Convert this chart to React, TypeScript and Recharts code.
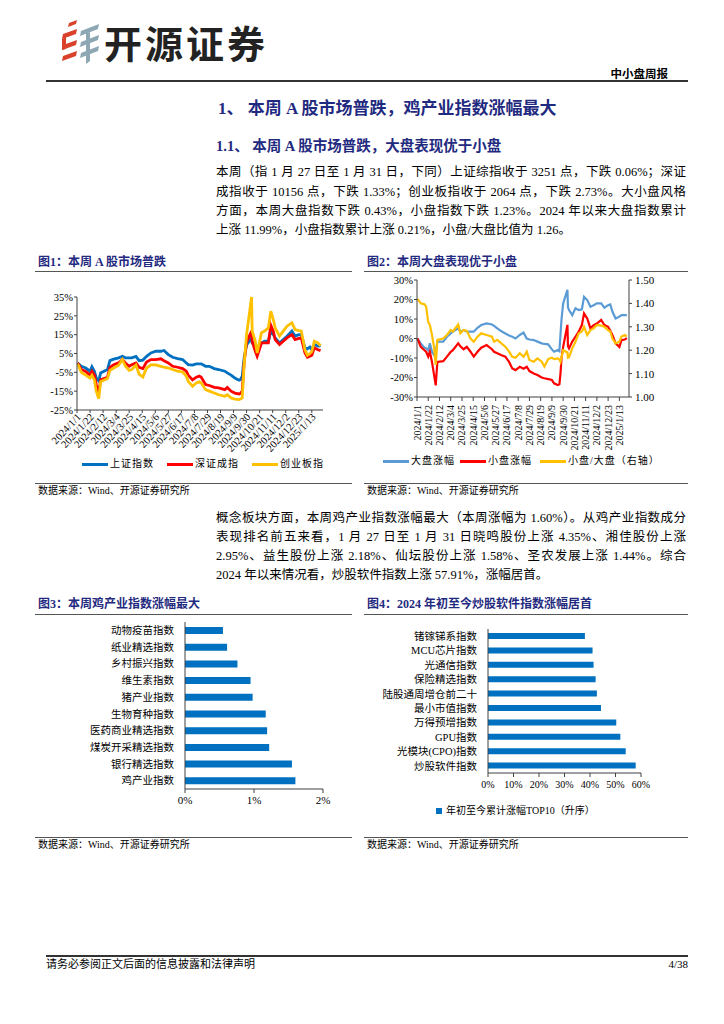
import React from 'react'
import { LineChart, Line, BarChart, Bar, XAxis, YAxis } from 'recharts'

const SERIF = '"Liberation Serif", "Noto Sans CJK SC", serif'
const SANS = '"Noto Sans CJK SC", "Noto Sans", sans-serif'
const NAVY = '#1f2a80'
const AXIS = '#404040'

// 日期刻度（图1、图2共用）
const dateTicks = ['2024/1/1', '2024/1/22', '2024/2/12', '2024/3/4', '2024/3/25', '2024/4/15', '2024/5/6', '2024/5/27', '2024/6/17', '2024/7/8', '2024/7/29', '2024/8/19', '2024/9/9', '2024/9/30', '2024/10/21', '2024/11/11', '2024/12/2', '2024/12/23', '2025/1/13']

// 图1：上证指数 / 深证成指 / 创业板指 累计涨跌幅（%）
const marketDates = ['2024/1/2', '2024/1/8', '2024/1/15', '2024/1/22', '2024/1/25', '2024/1/29', '2024/2/1', '2024/2/5', '2024/2/8', '2024/2/19', '2024/2/23', '2024/2/29', '2024/3/8', '2024/3/14', '2024/3/19', '2024/3/25', '2024/3/29', '2024/4/5', '2024/4/10', '2024/4/16', '2024/4/22', '2024/4/29', '2024/5/7', '2024/5/15', '2024/5/20', '2024/5/27', '2024/6/3', '2024/6/11', '2024/6/19', '2024/6/25', '2024/6/28', '2024/7/5', '2024/7/11', '2024/7/16', '2024/7/19', '2024/7/26', '2024/8/1', '2024/8/9', '2024/8/16', '2024/8/26', '2024/8/30', '2024/9/5', '2024/9/11', '2024/9/18', '2024/9/20', '2024/9/23', '2024/9/26', '2024/9/30', '2024/10/8', '2024/10/9', '2024/10/14', '2024/10/17', '2024/10/24', '2024/10/29', '2024/11/4', '2024/11/8', '2024/11/12', '2024/11/15', '2024/11/22', '2024/11/28', '2024/12/4', '2024/12/12', '2024/12/17', '2024/12/23', '2024/12/27', '2025/1/2', '2025/1/6', '2025/1/10', '2025/1/13', '2025/1/17', '2025/1/23', '2025/1/27']
const shIndex = [0, -1.8, -2.7, -4.4, -2, -4.4, -8, -9.5, -5.3, -3.5, 1.2, 2, 2.7, 3.5, 2.7, 2.7, 2.7, 3.5, 1.2, 1.5, 3.5, 5.3, 6.2, 6.2, 6.6, 4.4, 3, 2.3, 1.8, 0, -0.9, -1.2, -0.5, -0.5, -0.5, -1.8, -1.8, -3, -3.5, -4.4, -5.3, -6.5, -8, -9.2, -8.9, -7, 2.7, 9.5, 13.3, 10.6, 9.8, 6.2, 10.6, 11.5, 11.5, 16.9, 15, 13.3, 10.6, 12.4, 14.2, 16.9, 14.2, 15, 15, 8, 7.5, 8.5, 7, 9.8, 8.9, 9]
const szIndex = [0, -3.5, -4.5, -6.5, -4.5, -6.5, -11.5, -16, -9, -7.6, -2.3, -1, 0, 1.8, 0, -1.8, -1, 0, -2.3, -3, 0.5, 1.8, 1.8, 2.2, 1.2, 0, -1.8, -2.3, -3, -4.4, -6.5, -9, -7.6, -7, -7.6, -11.5, -12, -13, -13.3, -14.2, -13, -15, -16, -16.5, -16.2, -15, 0, 11, 16.9, 11.5, 6.2, 3.5, 10.6, 10.6, 10.6, 20, 16.9, 12.4, 9.8, 11.5, 13.3, 15, 12.4, 13, 13.3, 5.3, 3, 3.5, 4, 8, 7, 6.5]
const cyIndex = [-0.5, -5, -6.5, -8, -6.5, -9, -15, -19, -10, -8.3, -4, -2.7, -1.2, 1.8, -1.8, -4, -3.5, -1.2, -6, -7.5, -2.7, -1, -1, -1.8, -2.3, -2.7, -3.5, -4.4, -4.8, -7, -9.8, -12.4, -10.6, -10, -10.6, -14.2, -15, -16, -16.9, -17.7, -16.9, -18.6, -19.2, -19.5, -19.2, -18.6, -1, 15, 35, 16.9, 11.5, 5.3, 16, 16.9, 18.6, 27.5, 23, 18.6, 14.2, 16.9, 19.5, 21.3, 17.7, 17.2, 17, 7, 4, 5, 6, 11.5, 10.6, 9]
const marketTicks = [-25, -15, -5, 5, 15, 25, 35]

// 图2：大盘涨幅 / 小盘涨幅（%），小盘/大盘（右轴）
const styleDates = ['2024/1/2', '2024/1/8', '2024/1/15', '2024/1/18', '2024/1/22', '2024/1/25', '2024/1/29', '2024/2/2', '2024/2/5', '2024/2/8', '2024/2/19', '2024/2/26', '2024/3/4', '2024/3/8', '2024/3/18', '2024/3/22', '2024/3/28', '2024/4/3', '2024/4/10', '2024/4/16', '2024/4/23', '2024/4/30', '2024/5/10', '2024/5/20', '2024/5/24', '2024/5/30', '2024/6/6', '2024/6/14', '2024/6/21', '2024/6/27', '2024/7/3', '2024/7/11', '2024/7/18', '2024/7/24', '2024/7/29', '2024/8/6', '2024/8/13', '2024/8/21', '2024/8/26', '2024/9/2', '2024/9/9', '2024/9/13', '2024/9/20', '2024/9/23', '2024/9/25', '2024/9/27', '2024/9/30', '2024/10/8', '2024/10/9', '2024/10/11', '2024/10/17', '2024/10/23', '2024/10/29', '2024/11/4', '2024/11/8', '2024/11/14', '2024/11/20', '2024/11/26', '2024/12/2', '2024/12/10', '2024/12/16', '2024/12/23', '2024/12/27', '2024/12/31', '2025/1/6', '2025/1/13', '2025/1/17', '2025/1/23', '2025/1/27']
const bigCap = [0, -2.5, -4.7, -5, -6, -2.5, -6.8, -8.5, -7, -1.6, -1.6, 0.9, 2.6, 3.5, 5.2, 3.5, 4.3, 3.5, 3.5, 3.5, 5.5, 6.9, 7.7, 7.2, 6.5, 5.2, 3.8, 2.6, 1.5, 0.9, 0, 1.8, 3, 0, -0.5, -0.8, -1.6, -2.5, -2.8, -3, -5.6, -6.8, -5.9, -6.5, 2, 10, 18, 25, 16, 14.6, 12, 15.5, 14.6, 15, 21.4, 19.7, 16.3, 17.1, 18, 18, 15.8, 17.1, 17.5, 13.8, 10.3, 11.2, 12, 12, 11.99]
const smallCap = [0, -4.3, -6, -6.8, -9.3, -6.8, -12, -18.9, -24, -12, -11.6, -9.3, -6.8, -6, -2.5, -4, -5.5, -4.3, -6.8, -9.3, -6.8, -4.7, -3.4, -5.5, -6.8, -7.6, -8.5, -9.3, -12, -15.4, -16.2, -14.5, -15.5, -14.5, -16.7, -17.9, -18.7, -20, -20.4, -20.8, -21.3, -23, -23.9, -23.5, -18, -10, -4.3, 7, -4, -5.1, -1.6, 0.9, 3.5, 6.9, 12.9, 10.3, 5.2, 6.9, 7.7, 9.5, 6.9, 6, 4, 1.8, -2.5, -4.3, -0.8, -0.5, 0.21]
const smallBigRatio = [1.419, 1.4, 1.396, 1.386, 1.32, 1.308, 1.265, 1.21, 1.137, 1.244, 1.25, 1.265, 1.286, 1.28, 1.31, 1.272, 1.286, 1.282, 1.25, 1.236, 1.258, 1.272, 1.265, 1.258, 1.236, 1.244, 1.23, 1.215, 1.194, 1.172, 1.168, 1.187, 1.172, 1.194, 1.158, 1.151, 1.165, 1.151, 1.13, 1.162, 1.168, 1.162, 1.165, 1.16, 1.15, 1.17, 1.2, 1.19, 1.168, 1.17, 1.208, 1.236, 1.272, 1.28, 1.3, 1.265, 1.286, 1.293, 1.308, 1.305, 1.3, 1.286, 1.28, 1.25, 1.229, 1.236, 1.258, 1.265, 1.26]
const styleTicks = [-30, -20, -10, 0, 10, 20, 30]
const ratioTicks = [1.0, 1.1, 1.2, 1.3, 1.4, 1.5]

// 图3：本周涨幅（%）
const chickenNames = ['动物疫苗指数', '纸业精选指数', '乡村振兴指数', '维生素指数', '猪产业指数', '生物育种指数', '医药商业精选指数', '煤炭开采精选指数', '银行精选指数', '鸡产业指数']
const chickenGains = [0.55, 0.61, 0.76, 0.95, 0.98, 1.17, 1.19, 1.22, 1.55, 1.6]
const chickenTicks = [0, 1, 2]

// 图4：年初至今累计涨幅（%）
const ytdNames = ['锗镓锑系指数', 'MCU芯片指数', '光通信指数', '保险精选指数', '陆股通周增仓前二十', '最小市值指数', '万得预增指数', 'GPU指数', '光模块(CPO)指数', '炒股软件指数']
const ytdGains = [38.0, 41.0, 41.4, 42.2, 42.7, 44.3, 50.3, 51.9, 54.0, 57.91]
const ytdTicks = [0, 10, 20, 30, 40, 50, 60]

const toDay = (s: string) => {
  const [y, m, d] = s.split('/').map(Number)
  return Math.round((Date.UTC(y, m - 1, d) - Date.UTC(2024, 0, 1)) / 86400000)
}
const tickDays = dateTicks.map(toDay)
const dateLabel = (v: number) => dateTicks[tickDays.indexOf(v)] ?? ''

const marketRows = marketDates.map((d, i) => ({ day: toDay(d), sh: shIndex[i], sz: szIndex[i], cy: cyIndex[i] }))
const styleRows = styleDates.map((d, i) => ({ day: toDay(d), big: bigCap[i], small: smallCap[i], ratio: smallBigRatio[i] }))
const chickenRows = chickenNames.map((name, i) => ({ name, value: chickenGains[i] }))
const ytdRows = ytdNames.map((name, i) => ({ name, value: ytdGains[i] }))

function SlantTick({ x, y, payload }: any) {
  return (
    <text x={x + 2} y={y} transform={`rotate(-47 ${x + 2} ${y})`} textAnchor="end" dominantBaseline="central"
      fontSize={10.5} fontFamily={SERIF} fill="#000">
      {dateLabel(payload.value)}
    </text>
  )
}

function VertTick({ x, y, payload }: any) {
  return (
    <text x={x} y={y} transform={`rotate(-90 ${x} ${y})`} textAnchor="end" dominantBaseline="central"
      fontSize={10} fontFamily={SERIF} fill="#000">
      {dateLabel(payload.value)}
    </text>
  )
}

function T({ x, y, size = 12, w, bold, color = '#000', justify, right, ls, family, children }: any) {
  const style: React.CSSProperties = {
    position: 'absolute',
    top: y - size * 0.7,
    fontSize: size,
    lineHeight: `${size * 1.4}px`,
    fontWeight: bold ? 700 : 400,
    color,
    letterSpacing: ls,
    fontFamily: family ?? SERIF,
    whiteSpace: justify ? 'normal' : 'nowrap',
  }
  if (right) style.right = 724 - x
  else style.left = x
  if (w) style.width = w
  if (justify) {
    style.textAlign = 'justify'
    style.textAlignLast = 'justify'
  }
  return <div style={style}>{children}</div>
}

function Rule({ x, y, w, h = 1, color = '#555' }: any) {
  return <div style={{ position: 'absolute', left: x, top: y, width: w, height: h, background: color }} />
}

function LegendLine({ x, y, color, label, w = 26 }: any) {
  return (
    <>
      <div style={{ position: 'absolute', left: x, top: y - 1.5, width: w, height: 3, background: color }} />
      <T x={x + w + 2} y={y} size={10} ls={1}>{label}</T>
    </>
  )
}

const tickStyle = { fontSize: 10.5, fontFamily: SERIF, fill: '#000' }
const catStyle = { fontSize: 10.5, fontFamily: SANS, fill: '#000' }

function Logo() {
  const red = '#d9412b'
  const grey = '#8ea7b5'
  return (
    <svg width={42} height={46} viewBox="0 0 42 46" style={{ position: 'absolute', left: 60, top: 19 }}>
      <polygon points="9,4 17,1 16,5 8,8" fill={red} />
      <polygon points="3,15 17,10 16,15 2,20" fill={red} />
      <polygon points="3,26 17,21 16,26 2,31" fill={red} />
      <polygon points="3,37 17,32 16,37 2,42" fill={red} />
      <polygon points="2,20 6,18 6,30 2,31" fill={red} />
      <polygon points="21,12 39,5 38,10 20,17" fill={grey} />
      <polygon points="21,23 39,16 38,21 20,28" fill={grey} />
      <polygon points="21,34 39,27 38,32 20,39" fill={grey} />
      <polygon points="26,14 30,13 30,42 26,45" fill={grey} />
    </svg>
  )
}

function MarketChart() {
  return (
    <div style={{ position: 'absolute', left: 30, top: 290 }}>
      <LineChart width={298} height={165} data={marketRows} margin={{ top: 7, right: 5, bottom: 0, left: 0 }}>
        <XAxis dataKey="day" type="number" domain={[0, 396]} ticks={tickDays} tick={<SlantTick />}
          interval={0} height={45} tickSize={3} tickMargin={2} stroke={AXIS} allowDataOverflow />
        <YAxis type="number" domain={[-25, 35]} ticks={marketTicks} tickFormatter={(v) => `${v}%`}
          width={47} tickSize={3} tickMargin={1} stroke={AXIS} tick={tickStyle} interval={0} />
        <Line dataKey="sh" stroke="#0070c0" strokeWidth={2.8} dot={false} isAnimationActive={false} />
        <Line dataKey="sz" stroke="#ff0000" strokeWidth={2.8} dot={false} isAnimationActive={false} />
        <Line dataKey="cy" stroke="#ffc000" strokeWidth={2.8} dot={false} isAnimationActive={false} />
      </LineChart>
    </div>
  )
}

function StyleChart() {
  return (
    <div style={{ position: 'absolute', left: 372, top: 273 }}>
      <LineChart width={298} height={184} data={styleRows} margin={{ top: 7, right: 0, bottom: 0, left: 0 }}>
        <XAxis dataKey="day" type="number" domain={[0, 396]} ticks={tickDays} tick={<VertTick />}
          interval={0} height={60} tickSize={4} tickMargin={4} stroke={AXIS} />
        <YAxis yAxisId="left" type="number" domain={[-30, 30]} ticks={styleTicks} tickFormatter={(v) => `${v}%`}
          width={45} tickSize={3} tickMargin={1} stroke={AXIS} tick={tickStyle} interval={0} />
        <YAxis yAxisId="right" orientation="right" type="number" domain={[1, 1.5]} ticks={ratioTicks}
          tickFormatter={(v) => v.toFixed(2)} width={41} tickSize={3} tickMargin={3} stroke={AXIS}
          tick={{ ...tickStyle, fontSize: 11 }} interval={0} />
        <Line yAxisId="left" dataKey="big" stroke="#5b9bd5" strokeWidth={2.2} dot={false} isAnimationActive={false} />
        <Line yAxisId="left" dataKey="small" stroke="#ff0000" strokeWidth={2.2} dot={false} isAnimationActive={false} />
        <Line yAxisId="right" dataKey="ratio" stroke="#ffc000" strokeWidth={2.2} dot={false} isAnimationActive={false} />
      </LineChart>
    </div>
  )
}

function ChickenChart() {
  return (
    <div style={{ position: 'absolute', left: 30, top: 615 }}>
      <BarChart width={303} height={199} data={chickenRows} layout="vertical" margin={{ top: 7, right: 10, bottom: 0, left: 0 }}>
        <XAxis type="number" domain={[0, 2]} ticks={chickenTicks} tickFormatter={(v) => `${v}%`} height={25}
          tickSize={4} tickMargin={3} stroke={AXIS} tick={{ ...tickStyle, fontSize: 11 }} interval={0} />
        <YAxis type="category" dataKey="name" width={155} tickLine={false} tickMargin={5} stroke={AXIS}
          tick={catStyle} interval={0} />
        <Bar dataKey="value" fill="#0070c0" barSize={7} isAnimationActive={false} />
      </BarChart>
    </div>
  )
}

function YtdChart() {
  return (
    <div style={{ position: 'absolute', left: 360, top: 622 }}>
      <BarChart width={293} height={176} data={ytdRows} layout="vertical" margin={{ top: 7, right: 12, bottom: 0, left: 0 }}>
        <XAxis type="number" domain={[0, 60]} ticks={ytdTicks} tickFormatter={(v) => `${v}%`} height={25}
          tickSize={4} tickMargin={4} stroke={AXIS} tick={{ ...tickStyle, fontSize: 10 }} interval={0} />
        <YAxis type="category" dataKey="name" width={128} tickLine={false} tickMargin={5} stroke={AXIS}
          tick={{ ...catStyle, fontFamily: SERIF }} interval={0} />
        <Bar dataKey="value" fill="#0070c0" barSize={6} isAnimationActive={false} />
      </BarChart>
    </div>
  )
}

export default function App() {
  return (
    <div style={{ position: 'relative', width: 724, height: 1024, background: '#fff', overflow: 'hidden', fontFamily: SERIF }}>
      <style>{'body{margin:0}'}</style>

      <Logo />
      <T x={104} y={42} size={38} bold family={SANS} color="#222" ls={3}>开源证券</T>
      <T x={668} y={73} size={11.5} bold right family={SANS}>中小盘周报</T>
      <Rule x={46} y={80} w={642} h={1.5} color="#333" />

      <T x={218} y={109} size={17} bold color={NAVY}>1、 本周 A 股市场普跌，鸡产业指数涨幅最大</T>
      <T x={216} y={146} size={14.5} bold color={NAVY}>1.1、 本周 A 股市场普跌，大盘表现优于小盘</T>

      <T x={216} y={173} w={470} size={12.5} justify>本周（指 1 月 27 日至 1 月 31 日，下同）上证综指收于 3251 点，下跌 0.06%；深证</T>
      <T x={216} y={193} w={470} size={12.5} justify>成指收于 10156 点，下跌 1.33%；创业板指收于 2064 点，下跌 2.73%。大小盘风格</T>
      <T x={216} y={212} w={470} size={12.5} justify>方面，本周大盘指数下跌 0.43%，小盘指数下跌 1.23%。2024 年以来大盘指数累计</T>
      <T x={216} y={231} size={12.5}>上涨 11.99%，小盘指数累计上涨 0.21%，小盘/大盘比值为 1.26。</T>

      <T x={38} y={262} size={12} bold color={NAVY}>图1：本周 A 股市场普跌</T>
      <Rule x={35} y={271} w={317} />
      <T x={367} y={262} size={12} bold color={NAVY}>图2：本周大盘表现优于小盘</T>
      <Rule x={364} y={271} w={324} />

      <MarketChart />
      <StyleChart />

      <LegendLine x={82} y={464} color="#0070c0" label="上证指数" />
      <LegendLine x={167} y={464} color="#ff0000" label="深证成指" />
      <LegendLine x={252} y={464} color="#ffc000" label="创业板指" />

      <LegendLine x={383} y={461} color="#5b9bd5" label="大盘涨幅" />
      <LegendLine x={460} y={461} color="#ff0000" label="小盘涨幅" />
      <LegendLine x={540} y={461} color="#ffc000" label="小盘/大盘（右轴）" />

      <Rule x={35} y={483} w={317} />
      <T x={38} y={491} size={10}>数据来源：Wind、开源证券研究所</T>
      <Rule x={364} y={483} w={324} />
      <T x={367} y={491} size={10}>数据来源：Wind、开源证券研究所</T>

      <T x={216} y={519} w={470} size={12.5} justify>概念板块方面，本周鸡产业指数涨幅最大（本周涨幅为 1.60%）。从鸡产业指数成分</T>
      <T x={216} y={538} w={470} size={12.5} justify>表现排名前五来看，1 月 27 日至 1 月 31 日晓鸣股份上涨 4.35%、湘佳股份上涨</T>
      <T x={216} y={557} w={470} size={12.5} justify>2.95%、益生股份上涨 2.18%、仙坛股份上涨 1.58%、圣农发展上涨 1.44%。综合</T>
      <T x={216} y={576} size={12.5}>2024 年以来情况看，炒股软件指数上涨 57.91%，涨幅居首。</T>

      <T x={38} y={604} size={12} bold color={NAVY}>图3：本周鸡产业指数涨幅最大</T>
      <Rule x={35} y={614} w={317} />
      <T x={367} y={604} size={12} bold color={NAVY}>图4：2024 年初至今炒股软件指数涨幅居首</T>
      <Rule x={364} y={614} w={324} />

      <ChickenChart />
      <YtdChart />

      <div style={{ position: 'absolute', left: 436, top: 808, width: 6, height: 6, background: '#0070c0' }} />
      <T x={446} y={811} size={10}>年初至今累计涨幅TOP10（升序）</T>

      <Rule x={35} y={837} w={317} />
      <T x={38} y={845} size={10}>数据来源：Wind、开源证券研究所</T>
      <Rule x={364} y={837} w={324} />
      <T x={367} y={845} size={10}>数据来源：Wind、开源证券研究所</T>

      <Rule x={46} y={955} w={642} h={1.5} color="#333" />
      <T x={46} y={965} size={11}>请务必参阅正文后面的信息披露和法律声明</T>
      <T x={688} y={965} size={11} right>4/38</T>
    </div>
  )
}
